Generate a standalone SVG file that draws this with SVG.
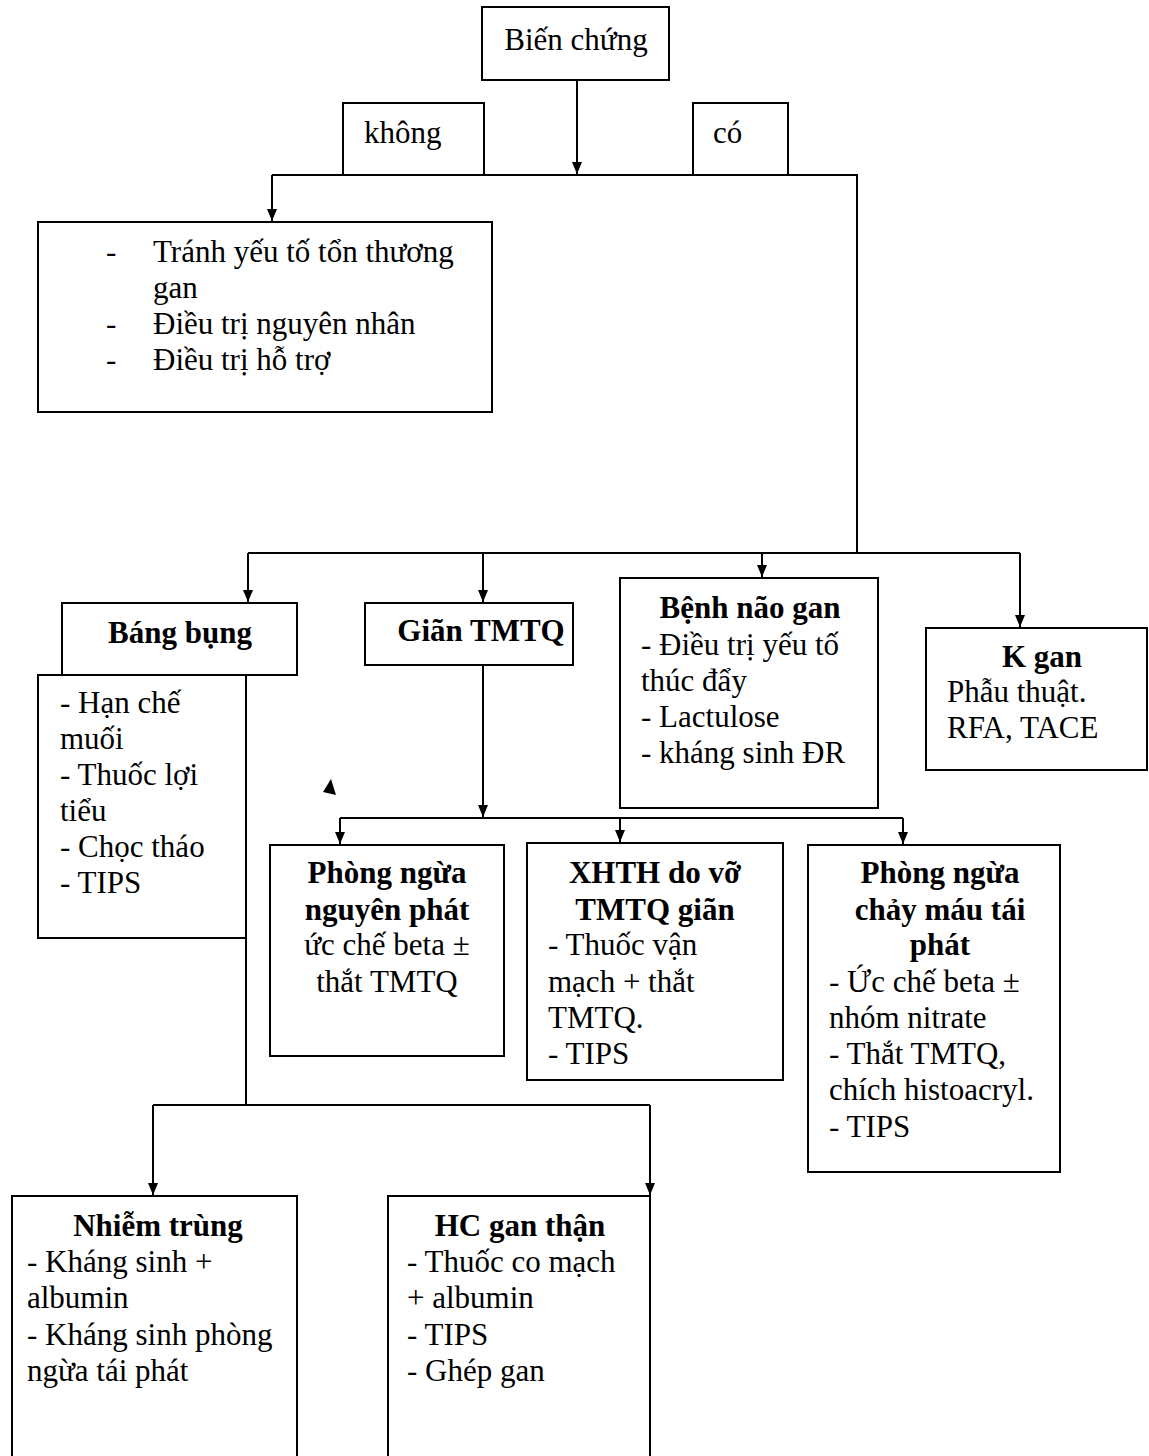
<svg xmlns="http://www.w3.org/2000/svg" width="1149" height="1456" viewBox="0 0 1149 1456">
  <defs>
    <marker id="arrow" markerWidth="14" markerHeight="12" refX="13" refY="6" orient="auto" markerUnits="userSpaceOnUse" viewBox="0 0 14 12">
      <path d="M1 1 L13 6 L1 11 Z" fill="#000"/>
    </marker>
    <style>
      .box { fill: #fff; stroke: #000; stroke-width: 2; }
      .open { fill: none; stroke: #000; stroke-width: 2; }
      .wire { fill: none; stroke: #000; stroke-width: 2; }
      .arr { fill: none; stroke: #000; stroke-width: 2; marker-end: url(#arrow); }
      text { font-family: "Liberation Serif", "Times New Roman", serif; font-size: 31px; fill: #000; }
      .b { font-weight: bold; }
      .c { text-anchor: middle; }
    </style>
  </defs>

  <rect width="1149" height="1456" fill="#fff"/>

  <!-- connectors -->
  <g id="connectors">
    <path class="arr" d="M577 80 V174"/>
    <path class="wire" d="M272 175 H857 V553"/>
    <path class="arr" d="M272 175 V221"/>
    <path class="wire" d="M248 553 H1020"/>
    <path class="arr" d="M248 553 V602"/>
    <path class="arr" d="M483 553 V602"/>
    <path class="arr" d="M762 553 V577"/>
    <path class="arr" d="M1020 553 V627"/>
    <path class="arr" d="M483 665 V817"/>
    <path class="wire" d="M340 818 H903"/>
    <path class="arr" d="M340 818 V844"/>
    <path class="arr" d="M620 818 V842"/>
    <path class="arr" d="M903 818 V844"/>
    <path class="wire" d="M246 938 V1105"/>
    <path class="wire" d="M153 1105 H650"/>
    <path class="arr" d="M153 1105 V1195"/>
    <path class="arr" d="M650 1105 V1195"/>
    <!-- stray arrowhead mark -->
    <path d="M331 779 L323 792 L336 795 Z" fill="#000"/>
  </g>

  <g id="bien-chung">
    <rect class="box" x="482" y="7" width="187" height="73"/>
    <text class="c" x="576" y="50">Biến chứng</text>
  </g>

  <g id="khong">
    <path class="open" d="M343 175 V103 H484 V175"/>
    <text x="364" y="143">không</text>
  </g>

  <g id="co">
    <path class="open" d="M693 175 V103 H788 V175"/>
    <text x="713" y="143">có</text>
  </g>

  <g id="khong-list">
    <rect class="box" x="38" y="222" width="454" height="190"/>
    <text x="106" y="262">-</text>
    <text x="153" y="262">Tránh yếu tố tổn thương</text>
    <text x="153" y="298">gan</text>
    <text x="106" y="334">-</text>
    <text x="153" y="334">Điều trị nguyên nhân</text>
    <text x="106" y="370">-</text>
    <text x="153" y="370">Điều trị hỗ trợ</text>
  </g>

  <g id="bang-bung">
    <rect class="box" x="62" y="603" width="235" height="72"/>
    <text class="b c" x="180" y="643">Báng bụng</text>
  </g>

  <g id="bang-bung-list">
    <rect class="box" x="38" y="675" width="208" height="263"/>
    <text x="60" y="713">- Hạn chế</text>
    <text x="60" y="749">muối</text>
    <text x="60" y="785">- Thuốc lợi</text>
    <text x="60" y="821">tiểu</text>
    <text x="60" y="857">- Chọc tháo</text>
    <text x="60" y="893">- TIPS</text>
  </g>

  <g id="gian-tmtq">
    <rect class="box" x="365" y="603" width="208" height="62"/>
    <text class="b c" x="481" y="641">Giãn TMTQ</text>
  </g>

  <g id="benh-nao-gan">
    <rect class="box" x="620" y="578" width="258" height="230"/>
    <text class="b c" x="750" y="618">Bệnh não gan</text>
    <text x="641" y="655">- Điều trị yếu tố</text>
    <text x="641" y="691">thúc đẩy</text>
    <text x="641" y="727">- Lactulose</text>
    <text x="641" y="763">- kháng sinh ĐR</text>
  </g>

  <g id="k-gan">
    <rect class="box" x="926" y="628" width="221" height="142"/>
    <text class="b c" x="1042" y="667">K gan</text>
    <text x="947" y="702">Phẫu thuật.</text>
    <text x="947" y="738">RFA, TACE</text>
  </g>

  <g id="phong-ngua-nguyen-phat">
    <rect class="box" x="270" y="845" width="234" height="211"/>
    <text class="b c" x="387" y="883">Phòng ngừa</text>
    <text class="b c" x="387" y="920">nguyên phát</text>
    <text class="c" x="387" y="955">ức chế beta ±</text>
    <text class="c" x="387" y="992">thắt TMTQ</text>
  </g>

  <g id="xhth">
    <rect class="box" x="527" y="843" width="256" height="237"/>
    <text class="b c" x="655" y="883">XHTH do vỡ</text>
    <text class="b c" x="655" y="920">TMTQ giãn</text>
    <text x="548" y="955">- Thuốc vận</text>
    <text x="548" y="992">mạch + thắt</text>
    <text x="548" y="1028">TMTQ.</text>
    <text x="548" y="1064">- TIPS</text>
  </g>

  <g id="phong-ngua-tai-phat">
    <rect class="box" x="808" y="845" width="252" height="327"/>
    <text class="b c" x="940" y="883">Phòng ngừa</text>
    <text class="b c" x="940" y="920">chảy máu tái</text>
    <text class="b c" x="940" y="955">phát</text>
    <text x="829" y="992">- Ức chế beta ±</text>
    <text x="829" y="1028">nhóm nitrate</text>
    <text x="829" y="1064">- Thắt TMTQ,</text>
    <text x="829" y="1100">chích histoacryl.</text>
    <text x="829" y="1137">- TIPS</text>
  </g>

  <g id="nhiem-trung">
    <path class="open" d="M12 1460 V1196 H297 V1460"/>
    <text class="b c" x="158" y="1236">Nhiễm trùng</text>
    <text x="27" y="1272">- Kháng sinh +</text>
    <text x="27" y="1308">albumin</text>
    <text x="27" y="1345">- Kháng sinh phòng</text>
    <text x="27" y="1381">ngừa tái phát</text>
  </g>

  <g id="hc-gan-than">
    <path class="open" d="M388 1460 V1196 H650 V1460"/>
    <text class="b c" x="520" y="1236">HC gan thận</text>
    <text x="407" y="1272">- Thuốc co mạch</text>
    <text x="407" y="1308">+ albumin</text>
    <text x="407" y="1345">- TIPS</text>
    <text x="407" y="1381">- Ghép gan</text>
  </g>
</svg>
